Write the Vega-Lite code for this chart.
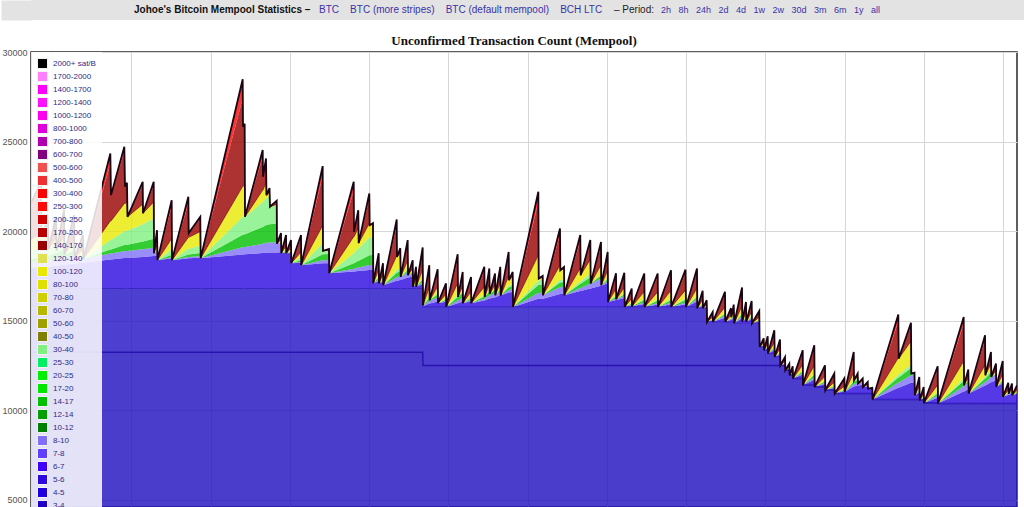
{
"$schema": "https://vega.github.io/schema/vega-lite/v6.json",
"padding": 0,
"spacing": 11,
"background": "white",
"resolve": {"scale": {"color": "independent", "y": "independent"}, "legend": {"color": "independent"}, "axis": {"y": "independent"}},
"config": {
  "font": "Liberation Sans",
  "view": {"stroke": null},
  "legend": {
    "orient": "top-left", "offset": 0, "padding": 6, "symbolLimit": 60,
    "fillColor": "rgba(255,255,255,0.85)",
    "symbolType": "square", "symbolSize": 100, "symbolStrokeColor": "#f2f2f2", "symbolStrokeWidth": 1, "symbolOpacity": 1,
    "labelFontSize": 8, "labelColor": "#2b2b88", "labelFont": "Liberation Sans", "labelOffset": 5, "rowPadding": -2
  }
},
"datasets": {
"mem": [
{"m":0,"p1":13240,"p2":16800,"b":17950,"l":18250,"g":18450,"lg":18850,"y":19500,"r":21200,"t":21560},
{"m":15.1,"p1":13240,"p2":16800,"b":17986,"l":18310,"g":18557,"lg":19064,"y":19928,"r":22271,"t":22750},
{"m":15.9,"p1":13240,"p2":16800,"b":17986,"l":18310,"g":18557,"lg":19064,"y":19800,"r":19800,"t":19800},
{"m":25.7,"p1":13240,"p2":16800,"b":18010,"l":18350,"g":18629,"lg":19208,"y":20088,"r":20520,"t":20600},
{"m":26.5,"p1":13240,"p2":16800,"b":18010,"l":18350,"g":18629,"lg":19000,"y":19000,"r":19000,"t":19000},
{"m":37.9,"p1":13240,"p2":16800,"b":18064,"l":18440,"g":18791,"lg":19324,"y":19648,"r":20620,"t":20800},
{"m":38.6,"p1":13240,"p2":16800,"b":18064,"l":18440,"g":18791,"lg":18900,"y":18900,"r":18900,"t":18900},
{"m":50.0,"p1":13240,"p2":16800,"b":18133,"l":18555,"g":18998,"lg":19314,"y":19728,"r":20970,"t":21200},
{"m":50.7,"p1":13240,"p2":16800,"b":18133,"l":18555,"g":18700,"lg":18700,"y":18700,"r":18700,"t":18700},
{"m":65.1,"p1":13240,"p2":16800,"b":18199,"l":18665,"g":18898,"lg":19096,"y":19492,"r":20680,"t":20900},
{"m":65.9,"p1":13240,"p2":16800,"b":18199,"l":18500,"g":18500,"lg":18500,"y":18500,"r":18500,"t":18500},
{"m":78.7,"p1":13240,"p2":16800,"b":18238,"l":18565,"g":18617,"lg":18734,"y":18968,"r":19670,"t":19800},
{"m":79.5,"p1":13240,"p2":16800,"b":18238,"l":18450,"g":18450,"lg":18450,"y":18450,"r":18450,"t":18450},
{"m":120.1,"p1":13240,"p2":16800,"b":18415,"l":18745,"g":18980,"lg":19510,"y":20570,"r":23751,"t":24340},
{"m":121.1,"p1":13240,"p2":16800,"b":18415,"l":18745,"g":18980,"lg":19510,"y":20570,"r":22010,"t":22010},
{"m":141.3,"p1":13240,"p2":16800,"b":18496,"l":18880,"g":19223,"lg":19996,"y":21542,"r":24440,"t":24710},
{"m":142.3,"p1":13240,"p2":16800,"b":18496,"l":18880,"g":19223,"lg":19996,"y":21542,"r":22480,"t":22480},
{"m":145.3,"p1":13240,"p2":16800,"b":18503,"l":18891,"g":19243,"lg":20036,"y":21621,"r":22678,"t":22700},
{"m":146.1,"p1":13240,"p2":16800,"b":18503,"l":18891,"g":19243,"lg":20036,"y":20800,"r":20800,"t":20800},
{"m":169.1,"p1":13240,"p2":16800,"b":18562,"l":18989,"g":19419,"lg":20388,"y":21504,"r":22560,"t":22755},
{"m":169.6,"p1":13240,"p2":16800,"b":18562,"l":18989,"g":19419,"lg":20388,"y":21000,"r":21000,"t":21000},
{"m":185.8,"p1":13240,"p2":16800,"b":18615,"l":19077,"g":19577,"lg":20704,"y":21632,"r":22580,"t":22755},
{"m":186.2,"p1":13240,"p2":16800,"b":18615,"l":18770,"g":18770,"lg":18770,"y":18770,"r":18770,"t":18770},
{"m":190.8,"p1":13240,"p2":16800,"b":18653,"l":18834,"g":18885,"lg":19000,"y":19231,"r":19922,"t":20050},
{"m":191.5,"p1":13240,"p2":16800,"b":18380,"l":18380,"g":18380,"lg":18380,"y":18380,"r":18380,"t":18380},
{"m":213.0,"p1":13240,"p2":16800,"b":18481,"l":18548,"g":18682,"lg":18983,"y":19586,"r":21395,"t":21730},
{"m":213.5,"p1":13240,"p2":16800,"b":18380,"l":18380,"g":18380,"lg":18380,"y":18380,"r":18380,"t":18380},
{"m":238.2,"p1":13240,"p2":16800,"b":18486,"l":18557,"g":18698,"lg":19016,"y":19653,"r":21562,"t":21915},
{"m":238.8,"p1":13240,"p2":16800,"b":18486,"l":18557,"g":18698,"lg":19016,"y":19653,"r":19890,"t":19890},
{"m":256.3,"p1":13240,"p2":16800,"b":18513,"l":18603,"g":18780,"lg":19180,"y":19981,"r":20709,"t":20800},
{"m":256.9,"p1":13240,"p2":16800,"b":18490,"l":18490,"g":18490,"lg":18490,"y":18490,"r":18490,"t":18490},
{"m":320.5,"p1":13240,"p2":16800,"b":18700,"l":19100,"g":19800,"lg":20800,"y":22500,"r":27400,"t":28475},
{"m":321.0,"p1":13240,"p2":16800,"b":18700,"l":19100,"g":19800,"lg":20800,"y":22500,"r":25830,"t":25830},
{"m":323.5,"p1":13240,"p2":16800,"b":18703,"l":19110,"g":19822,"lg":20841,"y":22568,"r":25983,"t":26000},
{"m":324.0,"p1":13240,"p2":16800,"b":18703,"l":19110,"g":19822,"lg":20800,"y":20800,"r":20800,"t":20800},
{"m":350.8,"p1":13240,"p2":16800,"b":18778,"l":19296,"g":20232,"lg":21620,"y":22290,"r":24153,"t":24525},
{"m":351.2,"p1":13240,"p2":16800,"b":18778,"l":19296,"g":20232,"lg":21620,"y":22290,"r":23030,"t":23030},
{"m":355.8,"p1":13240,"p2":16800,"b":18799,"l":19348,"g":20345,"lg":21847,"y":22702,"r":23957,"t":24060},
{"m":356.5,"p1":13240,"p2":16800,"b":18799,"l":19348,"g":20345,"lg":21847,"y":22010,"r":22010,"t":22010},
{"m":361.1,"p1":13240,"p2":16800,"b":18807,"l":19368,"g":20388,"lg":21933,"y":22166,"r":22361,"t":22400},
{"m":361.8,"p1":13240,"p2":16800,"b":18807,"l":19368,"g":20388,"lg":21360,"y":21360,"r":21360,"t":21360},
{"m":372.0,"p1":13240,"p2":16800,"b":18814,"l":19385,"g":20425,"lg":21435,"y":21496,"r":21666,"t":21700},
{"m":372.4,"p1":13240,"p2":16800,"b":18814,"l":19300,"g":19300,"lg":19300,"y":19300,"r":19300,"t":19300},
{"m":378.5,"p1":13240,"p2":16800,"b":18826,"l":19330,"g":19365,"lg":19430,"y":19536,"r":19831,"t":19890},
{"m":379.0,"p1":13240,"p2":16800,"b":18770,"l":18770,"g":18770,"lg":18770,"y":18770,"r":18770,"t":18770},
{"m":386.1,"p1":13240,"p2":16800,"b":18790,"l":18821,"g":18881,"lg":18992,"y":19174,"r":19679,"t":19780},
{"m":386.5,"p1":13240,"p2":16800,"b":18770,"l":18770,"g":18770,"lg":18770,"y":18770,"r":18770,"t":18770},
{"m":393.6,"p1":13240,"p2":16800,"b":18785,"l":18807,"g":18850,"lg":18931,"y":19062,"r":19427,"t":19500},
{"m":394.1,"p1":13240,"p2":16800,"b":18210,"l":18210,"g":18210,"lg":18210,"y":18210,"r":18210,"t":18210},
{"m":408.8,"p1":13240,"p2":16800,"b":18241,"l":18289,"g":18383,"lg":18555,"y":18838,"r":19623,"t":19780},
{"m":409.2,"p1":13240,"p2":16800,"b":18100,"l":18100,"g":18100,"lg":18100,"y":18100,"r":18100,"t":18100},
{"m":441.6,"p1":13240,"p2":16800,"b":18211,"l":18377,"g":18708,"lg":19317,"y":20312,"r":23077,"t":23630},
{"m":442.1,"p1":13240,"p2":16800,"b":18211,"l":18377,"g":18708,"lg":18900,"y":18900,"r":18900,"t":18900},
{"m":451.2,"p1":13240,"p2":16800,"b":18213,"l":18382,"g":18719,"lg":18922,"y":18940,"r":18990,"t":19000},
{"m":451.6,"p1":13240,"p2":16800,"b":17650,"l":17650,"g":17650,"lg":17650,"y":17650,"r":17650,"t":17650},
{"m":488.6,"p1":13240,"p2":16800,"b":17752,"l":17905,"g":18212,"lg":18773,"y":19692,"r":22245,"t":22755},
{"m":489.0,"p1":13240,"p2":16800,"b":17752,"l":17905,"g":18212,"lg":18773,"y":19692,"r":19960,"t":19960},
{"m":495.5,"p1":13240,"p2":16800,"b":17776,"l":17966,"g":18345,"lg":19039,"y":20176,"r":21049,"t":21170},
{"m":496.1,"p1":13240,"p2":16800,"b":17776,"l":17966,"g":18345,"lg":19039,"y":19330,"r":19330,"t":19330},
{"m":512.2,"p1":13240,"p2":16800,"b":17832,"l":18105,"g":18650,"lg":19650,"y":20440,"r":21828,"t":22105},
{"m":512.8,"p1":13240,"p2":16800,"b":17832,"l":18105,"g":18650,"lg":19650,"y":20330,"r":20330,"t":20330},
{"m":517.8,"p1":13240,"p2":16800,"b":17834,"l":18111,"g":18663,"lg":19676,"y":20378,"r":20438,"t":20450},
{"m":518.2,"p1":13240,"p2":16800,"b":17090,"l":17090,"g":17090,"lg":17090,"y":17090,"r":17090,"t":17090},
{"m":526.4,"p1":13240,"p2":16800,"b":17208,"l":17292,"g":17409,"lg":17476,"y":17846,"r":18619,"t":18770},
{"m":526.9,"p1":13240,"p2":16800,"b":17090,"l":17090,"g":17090,"lg":17090,"y":17090,"r":17090,"t":17090},
{"m":532.9,"p1":13240,"p2":16800,"b":17168,"l":17224,"g":17303,"lg":17348,"y":17594,"r":18109,"t":18210},
{"m":533.4,"p1":13240,"p2":16800,"b":16980,"l":16980,"g":16980,"lg":16980,"y":16980,"r":16980,"t":16980},
{"m":553.7,"p1":13240,"p2":16800,"b":17237,"l":17420,"g":17677,"lg":17824,"y":18632,"r":20320,"t":20650},
{"m":554.1,"p1":13240,"p2":16800,"b":17237,"l":17420,"g":17677,"lg":17824,"y":18560,"r":18560,"t":18560},
{"m":559.1,"p1":13240,"p2":16800,"b":17271,"l":17479,"g":17770,"lg":17937,"y":18781,"r":19006,"t":19050},
{"m":559.7,"p1":13240,"p2":16800,"b":17271,"l":17445,"g":17445,"lg":17445,"y":17445,"r":17445,"t":17445},
{"m":570.3,"p1":13240,"p2":16800,"b":17415,"l":17692,"g":17835,"lg":17918,"y":18370,"r":19315,"t":19500},
{"m":570.8,"p1":13240,"p2":16800,"b":17415,"l":17540,"g":17540,"lg":17540,"y":17540,"r":17540,"t":17540},
{"m":577.9,"p1":13240,"p2":16800,"b":17474,"l":17641,"g":17700,"lg":17733,"y":17918,"r":18304,"t":18380},
{"m":578.3,"p1":13240,"p2":16800,"b":16890,"l":16890,"g":16890,"lg":16890,"y":16890,"r":16890,"t":16890},
{"m":582.9,"p1":13240,"p2":16800,"b":16968,"l":17024,"g":17102,"lg":17146,"y":17392,"r":17905,"t":18005},
{"m":583.3,"p1":13240,"p2":16800,"b":16890,"l":16890,"g":16890,"lg":16890,"y":16890,"r":16890,"t":16890},
{"m":593.0,"p1":13240,"p2":16800,"b":17044,"l":17154,"g":17308,"lg":17396,"y":17880,"r":18892,"t":19090},
{"m":593.5,"p1":12500,"p2":15770,"b":15800,"l":15830,"g":15850,"lg":15865,"y":15865,"r":15865,"t":15865},
{"m":603.0,"p1":12500,"p2":15770,"b":15956,"l":16098,"g":16275,"lg":16379,"y":16871,"r":17899,"t":18100},
{"m":603.6,"p1":12500,"p2":15770,"b":15956,"l":16098,"g":16145,"lg":16145,"y":16145,"r":16145,"t":16145},
{"m":615.7,"p1":12500,"p2":15770,"b":16077,"l":16306,"g":16474,"lg":16543,"y":16924,"r":17719,"t":17875},
{"m":616.2,"p1":12500,"p2":15770,"b":15980,"l":15980,"g":15980,"lg":15980,"y":15980,"r":15980,"t":15980},
{"m":628.3,"p1":12500,"p2":15770,"b":16057,"l":16112,"g":16189,"lg":16233,"y":16475,"r":16981,"t":17080},
{"m":628.8,"p1":12500,"p2":15770,"b":15770,"l":15770,"g":15770,"lg":15770,"y":15770,"r":15770,"t":15770},
{"m":646.0,"p1":12500,"p2":15770,"b":15976,"l":16123,"g":16330,"lg":16447,"y":17095,"r":18450,"t":18715},
{"m":646.5,"p1":12500,"p2":15770,"b":15976,"l":16123,"g":16330,"lg":16330,"y":16330,"r":16330,"t":16330},
{"m":653.6,"p1":12500,"p2":15770,"b":16074,"l":16290,"g":16595,"lg":16651,"y":16958,"r":17599,"t":17725},
{"m":654.0,"p1":12500,"p2":15770,"b":15980,"l":15980,"g":15980,"lg":15980,"y":15980,"r":15980,"t":15980},
{"m":666.2,"p1":12500,"p2":15770,"b":16083,"l":16156,"g":16258,"lg":16317,"y":16639,"r":17313,"t":17445},
{"m":666.6,"p1":12500,"p2":15770,"b":15980,"l":15980,"g":15980,"lg":15980,"y":15980,"r":15980,"t":15980},
{"m":686.3,"p1":12500,"p2":15770,"b":16122,"l":16223,"g":16365,"lg":16446,"y":16891,"r":17823,"t":18005},
{"m":686.9,"p1":12500,"p2":15770,"b":16122,"l":16223,"g":16330,"lg":16330,"y":16330,"r":16330,"t":16330},
{"m":693.9,"p1":12500,"p2":15770,"b":16233,"l":16413,"g":16631,"lg":16695,"y":17043,"r":17772,"t":17915},
{"m":694.5,"p1":12500,"p2":15770,"b":16233,"l":16413,"g":16500,"lg":16500,"y":16500,"r":16500,"t":16500},
{"m":702.5,"p1":12500,"p2":15770,"b":16312,"l":16549,"g":16716,"lg":16761,"y":17011,"r":17533,"t":17635},
{"m":703.0,"p1":12500,"p2":15770,"b":16312,"l":16420,"g":16420,"lg":16420,"y":16420,"r":16420,"t":16420},
{"m":710.5,"p1":12500,"p2":15770,"b":16423,"l":16610,"g":16721,"lg":16785,"y":17133,"r":17862,"t":18005},
{"m":711.1,"p1":12500,"p2":15770,"b":16400,"l":16400,"g":16400,"lg":16400,"y":16400,"r":16400,"t":16400},
{"m":723.2,"p1":12500,"p2":15770,"b":16571,"l":16693,"g":16864,"lg":16961,"y":17498,"r":18620,"t":18840},
{"m":723.7,"p1":12500,"p2":15770,"b":16571,"l":16693,"g":16864,"lg":16961,"y":17260,"r":17260,"t":17260},
{"m":729.3,"p1":12500,"p2":15770,"b":16604,"l":16749,"g":16952,"lg":17068,"y":17469,"r":17683,"t":17725},
{"m":729.8,"p1":12500,"p2":15770,"b":15770,"l":15770,"g":15770,"lg":15770,"y":15770,"r":15770,"t":15770},
{"m":768.1,"p1":12500,"p2":15770,"b":16220,"l":16542,"g":16992,"lg":17249,"y":18664,"r":21621,"t":22200},
{"m":768.7,"p1":12500,"p2":15770,"b":16220,"l":16542,"g":16992,"lg":17249,"y":17355,"r":17355,"t":17355},
{"m":774.7,"p1":12500,"p2":15770,"b":16230,"l":16559,"g":17020,"lg":17282,"y":17420,"r":17487,"t":17500},
{"m":775.2,"p1":12500,"p2":15770,"b":16230,"l":16420,"g":16420,"lg":16420,"y":16420,"r":16420,"t":16420},
{"m":800.9,"p1":12500,"p2":15770,"b":16491,"l":16868,"g":17129,"lg":17278,"y":18099,"r":19814,"t":20150},
{"m":801.4,"p1":12500,"p2":15770,"b":16491,"l":16868,"g":17129,"lg":17278,"y":17820,"r":17820,"t":17820},
{"m":807.0,"p1":12500,"p2":15770,"b":16504,"l":16890,"g":17163,"lg":17319,"y":17901,"r":17984,"t":18000},
{"m":807.5,"p1":12500,"p2":15770,"b":16420,"l":16420,"g":16420,"lg":16420,"y":16420,"r":16420,"t":16420},
{"m":831.6,"p1":12500,"p2":15770,"b":16655,"l":16823,"g":17058,"lg":17193,"y":17932,"r":19478,"t":19780},
{"m":832.2,"p1":12500,"p2":15770,"b":16655,"l":16823,"g":17058,"lg":17193,"y":17540,"r":17540,"t":17540},
{"m":846.8,"p1":12500,"p2":15770,"b":16792,"l":17058,"g":17430,"lg":17644,"y":18422,"r":19324,"t":19500},
{"m":847.4,"p1":12500,"p2":15770,"b":16792,"l":17058,"g":17080,"lg":17080,"y":17080,"r":17080,"t":17080},
{"m":863.0,"p1":12500,"p2":15770,"b":16954,"l":17336,"g":17521,"lg":17614,"y":18124,"r":19191,"t":19400},
{"m":863.4,"p1":12500,"p2":15770,"b":16954,"l":16980,"g":16980,"lg":16980,"y":16980,"r":16980,"t":16980},
{"m":873.1,"p1":12500,"p2":15770,"b":17084,"l":17203,"g":17333,"lg":17408,"y":17817,"r":18673,"t":18840},
{"m":873.6,"p1":12500,"p2":15770,"b":16050,"l":16050,"g":16050,"lg":16050,"y":16050,"r":16050,"t":16050},
{"m":885.7,"p1":12500,"p2":15770,"b":16162,"l":16242,"g":16354,"lg":16418,"y":16770,"r":17506,"t":17650},
{"m":886.1,"p1":12500,"p2":15770,"b":16162,"l":16200,"g":16200,"lg":16200,"y":16200,"r":16200,"t":16200},
{"m":898.3,"p1":12500,"p2":15770,"b":16265,"l":16376,"g":16479,"lg":16538,"y":16862,"r":17538,"t":17670},
{"m":898.9,"p1":12500,"p2":15770,"b":15770,"l":15770,"g":15770,"lg":15770,"y":15770,"r":15770,"t":15770},
{"m":909.5,"p1":12500,"p2":15770,"b":15842,"l":15894,"g":15966,"lg":16007,"y":16234,"r":16707,"t":16800},
{"m":909.9,"p1":12500,"p2":15770,"b":15800,"l":15800,"g":15800,"lg":15800,"y":15800,"r":15800,"t":15800},
{"m":928.5,"p1":12500,"p2":15770,"b":15928,"l":16020,"g":16149,"lg":16222,"y":16626,"r":17470,"t":17635},
{"m":929.1,"p1":12500,"p2":15770,"b":15770,"l":15770,"g":15770,"lg":15770,"y":15770,"r":15770,"t":15770},
{"m":948.8,"p1":12500,"p2":15770,"b":15901,"l":15994,"g":16124,"lg":16199,"y":16609,"r":17467,"t":17635},
{"m":949.3,"p1":12500,"p2":15770,"b":15770,"l":15770,"g":15770,"lg":15770,"y":15770,"r":15770,"t":15770},
{"m":969.0,"p1":12500,"p2":15770,"b":15914,"l":16016,"g":16160,"lg":16242,"y":16693,"r":17636,"t":17820},
{"m":969.4,"p1":12500,"p2":15770,"b":15770,"l":15770,"g":15770,"lg":15770,"y":15770,"r":15770,"t":15770},
{"m":990.9,"p1":12500,"p2":15770,"b":15916,"l":16020,"g":16165,"lg":16248,"y":16706,"r":17663,"t":17850},
{"m":991.7,"p1":12500,"p2":15770,"b":15770,"l":15770,"g":15770,"lg":15770,"y":15770,"r":15770,"t":15770},
{"m":1008.3,"p1":12500,"p2":15770,"b":16070,"l":16199,"g":16328,"lg":16392,"y":16821,"r":17743,"t":17915},
{"m":1008.8,"p1":12500,"p2":15700,"b":15700,"l":15700,"g":15700,"lg":15700,"y":15700,"r":15700,"t":15700},
{"m":1016.9,"p1":12500,"p2":15700,"b":15835,"l":15893,"g":15951,"lg":15980,"y":16173,"r":16588,"t":16665},
{"m":1017.4,"p1":12500,"p2":15700,"b":15700,"l":15700,"g":15700,"lg":15700,"y":15700,"r":15700,"t":15700},
{"m":1023.0,"p1":12500,"p2":15700,"b":15762,"l":15789,"g":15816,"lg":15829,"y":15918,"r":16109,"t":16145},
{"m":1023.5,"p1":12500,"p2":14935,"b":14935,"l":14935,"g":14935,"lg":14935,"y":14935,"r":14935,"t":14935},
{"m":1032.1,"p1":12500,"p2":14935,"b":15013,"l":15046,"g":15079,"lg":15096,"y":15207,"r":15446,"t":15490},
{"m":1032.5,"p1":12500,"p2":14935,"b":14935,"l":14935,"g":14935,"lg":14935,"y":14935,"r":14935,"t":14935},
{"m":1050.7,"p1":12500,"p2":14935,"b":15170,"l":15270,"g":15371,"lg":15421,"y":15756,"r":16476,"t":16610},
{"m":1051.2,"p1":12500,"p2":14935,"b":14935,"l":14935,"g":14935,"lg":14935,"y":14935,"r":14935,"t":14935},
{"m":1059.8,"p1":12500,"p2":14935,"b":15042,"l":15088,"g":15134,"lg":15157,"y":15310,"r":15639,"t":15700},
{"m":1060.3,"p1":12500,"p2":14935,"b":15042,"l":15088,"g":15134,"lg":15157,"y":15200,"r":15200,"t":15200},
{"m":1063.9,"p1":12500,"p2":14935,"b":15140,"l":15228,"g":15316,"lg":15360,"y":15543,"r":15844,"t":15900},
{"m":1064.8,"p1":12500,"p2":14860,"b":14860,"l":14860,"g":14860,"lg":14860,"y":14860,"r":14860,"t":14860},
{"m":1076.5,"p1":12500,"p2":14860,"b":15139,"l":15258,"g":15377,"lg":15437,"y":15835,"r":16691,"t":16850},
{"m":1076.9,"p1":12500,"p2":14860,"b":14935,"l":14935,"g":14935,"lg":14935,"y":14935,"r":14935,"t":14935},
{"m":1082.5,"p1":12500,"p2":14860,"b":15091,"l":15158,"g":15225,"lg":15258,"y":15481,"r":15961,"t":16050},
{"m":1083.0,"p1":12500,"p2":14860,"b":14935,"l":14935,"g":14935,"lg":14935,"y":14935,"r":14935,"t":14935},
{"m":1091.1,"p1":12500,"p2":14860,"b":15099,"l":15169,"g":15239,"lg":15274,"y":15508,"r":16011,"t":16105},
{"m":1091.6,"p1":12500,"p2":14860,"b":14860,"l":14860,"g":14860,"lg":14860,"y":14860,"r":14860,"t":14860},
{"m":1102.6,"p1":12500,"p2":14860,"b":14956,"l":14997,"g":15038,"lg":15059,"y":15196,"r":15490,"t":15545},
{"m":1103.2,"p1":12500,"p2":13535,"b":13535,"l":13535,"g":13535,"lg":13535,"y":13535,"r":13535,"t":13535},
{"m":1109.3,"p1":12500,"p2":13535,"b":13603,"l":13632,"g":13661,"lg":13676,"y":13773,"r":13981,"t":14020},
{"m":1109.8,"p1":12500,"p2":13350,"b":13350,"l":13350,"g":13350,"lg":13350,"y":13350,"r":13350,"t":13350},
{"m":1115.4,"p1":12500,"p2":13350,"b":13459,"l":13506,"g":13553,"lg":13576,"y":13732,"r":14068,"t":14130},
{"m":1115.8,"p1":12500,"p2":13165,"b":13165,"l":13165,"g":13165,"lg":13165,"y":13165,"r":13165,"t":13165},
{"m":1125.4,"p1":12500,"p2":13165,"b":13348,"l":13426,"g":13504,"lg":13543,"y":13804,"r":14366,"t":14470},
{"m":1126.0,"p1":12500,"p2":12975,"b":12975,"l":12975,"g":12975,"lg":12975,"y":12975,"r":12975,"t":12975},
{"m":1134.0,"p1":12500,"p2":12975,"b":13112,"l":13170,"g":13229,"lg":13258,"y":13453,"r":13872,"t":13950},
{"m":1134.5,"p1":12500,"p2":12510,"b":12510,"l":12510,"g":12510,"lg":12510,"y":12510,"r":12510,"t":12510},
{"m":1141.6,"p1":12500,"p2":12510,"b":12575,"l":12603,"g":12631,"lg":12645,"y":12738,"r":12938,"t":12975},
{"m":1142.0,"p1":12235,"p2":12235,"b":12235,"l":12235,"g":12235,"lg":12235,"y":12235,"r":12235,"t":12235},
{"m":1148.1,"p1":12235,"p2":12235,"b":12286,"l":12308,"g":12330,"lg":12341,"y":12414,"r":12571,"t":12600},
{"m":1148.7,"p1":11955,"p2":11955,"b":11955,"l":11955,"g":11955,"lg":11955,"y":11955,"r":11955,"t":11955},
{"m":1153.2,"p1":11955,"p2":11955,"b":12026,"l":12056,"g":12086,"lg":12101,"y":12202,"r":12420,"t":12460},
{"m":1153.7,"p1":11770,"p2":11770,"b":11770,"l":11770,"g":11770,"lg":11770,"y":11770,"r":11770,"t":11770},
{"m":1168.4,"p1":11770,"p2":11770,"b":11991,"l":12086,"g":12181,"lg":12228,"y":12544,"r":13224,"t":13350},
{"m":1168.8,"p1":11395,"p2":11395,"b":11395,"l":11395,"g":11395,"lg":11395,"y":11395,"r":11395,"t":11395},
{"m":1185.9,"p1":11395,"p2":11395,"b":11708,"l":11842,"g":11976,"lg":12043,"y":12490,"r":13451,"t":13630},
{"m":1186.5,"p1":11300,"p2":11300,"b":11300,"l":11300,"g":11300,"lg":11300,"y":11300,"r":11300,"t":11300},
{"m":1202.1,"p1":11300,"p2":11300,"b":11469,"l":11542,"g":11615,"lg":11651,"y":11893,"r":12413,"t":12510},
{"m":1202.6,"p1":11115,"p2":11115,"b":11115,"l":11115,"g":11115,"lg":11115,"y":11115,"r":11115,"t":11115},
{"m":1216.2,"p1":11115,"p2":11115,"b":11246,"l":11302,"g":11358,"lg":11386,"y":11573,"r":11975,"t":12050},
{"m":1216.8,"p1":10930,"p2":10930,"b":10930,"l":10930,"g":10930,"lg":10930,"y":10930,"r":10930,"t":10930},
{"m":1231.3,"p1":10930,"p2":10930,"b":11048,"l":11098,"g":11148,"lg":11174,"y":11342,"r":11703,"t":11770},
{"m":1231.9,"p1":10930,"p2":10930,"b":11020,"l":11020,"g":11020,"lg":11020,"y":11020,"r":11020,"t":11020},
{"m":1245.6,"p1":10930,"p2":10930,"b":11333,"l":11467,"g":11601,"lg":11668,"y":12115,"r":13076,"t":13255},
{"m":1246.0,"p1":10930,"p2":10930,"b":11333,"l":11467,"g":11601,"lg":11668,"y":11675,"r":11675,"t":11675},
{"m":1251.6,"p1":10930,"p2":10930,"b":11386,"l":11542,"g":11699,"lg":11777,"y":11859,"r":12020,"t":12050},
{"m":1252.1,"p1":10930,"p2":10930,"b":11386,"l":11490,"g":11490,"lg":11490,"y":11490,"r":11490,"t":11490},
{"m":1259.2,"p1":10930,"p2":10930,"b":11425,"l":11546,"g":11563,"lg":11571,"y":11627,"r":11748,"t":11770},
{"m":1259.7,"p1":10930,"p2":10930,"b":11300,"l":11300,"g":11300,"lg":11300,"y":11300,"r":11300,"t":11300},
{"m":1266.8,"p1":10930,"p2":10930,"b":11339,"l":11356,"g":11373,"lg":11381,"y":11437,"r":11558,"t":11580},
{"m":1267.2,"p1":10930,"p2":10930,"b":11210,"l":11210,"g":11210,"lg":11210,"y":11210,"r":11210,"t":11210},
{"m":1273.7,"p1":10930,"p2":10930,"b":11215,"l":11218,"g":11221,"lg":11222,"y":11230,"r":11247,"t":11250},
{"m":1274.3,"p1":10600,"p2":10600,"b":10600,"l":10600,"g":10600,"lg":10600,"y":10600,"r":10600,"t":10600},
{"m":1313.1,"p1":10600,"p2":10600,"b":11264,"l":11549,"g":11834,"lg":11976,"y":12925,"r":14965,"t":15345},
{"m":1313.7,"p1":10600,"p2":10600,"b":11264,"l":11549,"g":11834,"lg":11976,"y":12885,"r":12885,"t":12885},
{"m":1332.3,"p1":10600,"p2":10600,"b":11543,"l":11948,"g":12353,"lg":12555,"y":13863,"r":14720,"t":14880},
{"m":1332.8,"p1":10600,"p2":10600,"b":11543,"l":11948,"g":12050,"lg":12050,"y":12050,"r":12050,"t":12050},
{"m":1337.6,"p1":10600,"p2":10600,"b":11550,"l":11960,"g":12070,"lg":12075,"y":12085,"r":12098,"t":12100},
{"m":1338.1,"p1":10600,"p2":10600,"b":10840,"l":10840,"g":10840,"lg":10840,"y":10840,"r":10840,"t":10840},
{"m":1344.9,"p1":10600,"p2":10600,"b":10983,"l":11044,"g":11105,"lg":11136,"y":11340,"r":11778,"t":11860},
{"m":1345.5,"p1":10560,"p2":10560,"b":10560,"l":10560,"g":10560,"lg":10560,"y":10560,"r":10560,"t":10560},
{"m":1351.5,"p1":10560,"p2":10560,"b":10664,"l":10708,"g":10752,"lg":10775,"y":10923,"r":11241,"t":11300},
{"m":1352.0,"p1":10410,"p2":10410,"b":10410,"l":10410,"g":10410,"lg":10410,"y":10410,"r":10410,"t":10410},
{"m":1372.7,"p1":10410,"p2":10410,"b":10697,"l":10820,"g":10943,"lg":11005,"y":11415,"r":12296,"t":12460},
{"m":1373.2,"p1":10375,"p2":10375,"b":10375,"l":10375,"g":10375,"lg":10375,"y":10375,"r":10375,"t":10375},
{"m":1412.1,"p1":10375,"p2":10375,"b":11052,"l":11342,"g":11632,"lg":11777,"y":12744,"r":14823,"t":15210},
{"m":1412.6,"p1":10375,"p2":10375,"b":11052,"l":11342,"g":11395,"lg":11395,"y":11395,"r":11395,"t":11395},
{"m":1419.1,"p1":10375,"p2":10375,"b":11175,"l":11517,"g":11623,"lg":11649,"y":11824,"r":12200,"t":12270},
{"m":1419.7,"p1":10375,"p2":10375,"b":10930,"l":10930,"g":10930,"lg":10930,"y":10930,"r":10930,"t":10930},
{"m":1444.4,"p1":10375,"p2":10375,"b":11386,"l":11582,"g":11778,"lg":11875,"y":12527,"r":13929,"t":14190},
{"m":1444.9,"p1":10375,"p2":10375,"b":11386,"l":11582,"g":11778,"lg":11875,"y":11955,"r":11955,"t":11955},
{"m":1453.4,"p1":10375,"p2":10375,"b":11568,"l":11842,"g":12116,"lg":12252,"y":12592,"r":13151,"t":13255},
{"m":1453.9,"p1":10375,"p2":10375,"b":11568,"l":11842,"g":11860,"lg":11860,"y":11860,"r":11860,"t":11860},
{"m":1461.0,"p1":10375,"p2":10375,"b":11672,"l":11991,"g":12054,"lg":12076,"y":12225,"r":12545,"t":12605},
{"m":1461.5,"p1":10375,"p2":10375,"b":11300,"l":11300,"g":11300,"lg":11300,"y":11300,"r":11300,"t":11300},
{"m":1471.2,"p1":10375,"p2":10375,"b":11503,"l":11590,"g":11677,"lg":11721,"y":12011,"r":12634,"t":12750},
{"m":1471.6,"p1":10375,"p2":10375,"b":10750,"l":10750,"g":10750,"lg":10750,"y":10750,"r":10750,"t":10750},
{"m":1479.6,"p1":10375,"p2":10375,"b":10859,"l":10906,"g":10953,"lg":10976,"y":11132,"r":11468,"t":11530},
{"m":1480.2,"p1":10375,"p2":10375,"b":10859,"l":10906,"g":10930,"lg":10930,"y":10930,"r":10930,"t":10930},
{"m":1485.2,"p1":10375,"p2":10375,"b":10937,"l":11018,"g":11076,"lg":11092,"y":11204,"r":11445,"t":11490},
{"m":1485.7,"p1":10375,"p2":10375,"b":10840,"l":10840,"g":10840,"lg":10840,"y":10840,"r":10840,"t":10840},
{"m":1492.8,"p1":10375,"p2":10375,"b":10918,"l":10951,"g":10984,"lg":11001,"y":11112,"r":11351,"t":11395}
]
},
"vconcat": [
{
  "width": 994, "height": 20,
  "view": {"fill": "#e3e3e3", "stroke": null},
  "data": {"values": [{}]},
  "layer": [
    {"mark": {"type": "point", "opacity": 0},
     "encoding": {"y": {"datum": 0, "type": "quantitative", "scale": {"domain": [0, 1]},
       "axis": {"domain": true, "domainColor": "#e3e3e3", "domainWidth": 30, "offset": 15, "labels": false, "ticks": false, "grid": false, "title": null, "minExtent": 0, "maxExtent": 30}}}},
    {"mark": {"type": "text", "text": "Johoe's Bitcoin Mempool Statistics –", "align": "left", "dx": -394, "fontWeight": "bold", "fontSize": 10, "font": "Liberation Sans", "color": "#111111"}},
    {"mark": {"type": "text", "text": "BTC\u00a0\u00a0\u00a0\u00a0BTC (more stripes)\u00a0\u00a0\u00a0\u00a0BTC (default mempool)\u00a0\u00a0\u00a0\u00a0BCH\u00a0LTC", "align": "left", "dx": -209, "fontSize": 10, "font": "Liberation Sans", "color": "#3b32a8"}},
    {"mark": {"type": "text", "text": "– Period:", "align": "left", "dx": 86, "fontSize": 10, "font": "Liberation Sans", "color": "#222222"}},
    {"mark": {"type": "text", "text": "2h\u00a0\u00a0\u00a08h\u00a0\u00a0\u00a024h\u00a0\u00a0\u00a02d\u00a0\u00a0\u00a04d\u00a0\u00a0\u00a01w\u00a0\u00a0\u00a02w\u00a0\u00a0\u00a030d\u00a0\u00a0\u00a03m\u00a0\u00a0\u00a06m\u00a0\u00a0\u00a01y\u00a0\u00a0\u00a0all", "align": "left", "dx": 133, "fontSize": 9, "font": "Liberation Sans", "color": "#3b32a8"}}
  ]
},
{
  "width": 986, "height": 455,
  "view": {"stroke": "#2a2a2a", "strokeWidth": 1.5},
  "title": {"text": "Unconfirmed Transaction Count (Mempool)", "font": "Liberation Serif", "fontSize": 13, "fontWeight": "bold", "color": "#111111", "anchor": "middle", "offset": 0, "dx": -10},
  "data": {"name": "mem"},
  "encoding": {
    "x": {"field": "m", "type": "quantitative", "scale": {"domain": [0, 1492.8], "nice": false, "zero": false},
          "axis": {"values": [32,152,272,392,512,632,752,872,992,1112,1232,1352,1472], "labels": false, "ticks": false, "domain": false, "title": null, "grid": true, "gridColor": "#d6d6d6"}}
  },
  "layer": [
    {"mark": {"type": "area", "fillOpacity": 0.8, "clip": true},
     "encoding": {
       "y": {"field": "p1", "type": "quantitative", "scale": {"domain": [4600, 30000], "nice": false, "zero": false},
             "axis": {"values": [5000,10000,15000,20000,25000,30000], "format": "d", "title": null, "ticks": false, "domain": false, "labelFontSize": 9, "labelColor": "#555555", "labelPadding": 4, "gridColor": "#d6d6d6", "minExtent": 30, "maxExtent": 30, "labelFlush": false}},
       "y2": {"datum": 4600},
       "color": {"datum": "1-2", "type": "nominal",
         "scale": {"domain": ["2000+ sat/B","1700-2000","1400-1700","1200-1400","1000-1200","800-1000","700-800","600-700","500-600","400-500","300-400","250-300","200-250","170-200","140-170","120-140","100-120","80-100","70-80","60-70","50-60","40-50","30-40","25-30","20-25","17-20","14-17","12-14","10-12","8-10","7-8","6-7","5-6","4-5","3-4","2-3","1-2"],
                   "range": ["#000000","#ff80ff","#ff00ff","#ff10ff","#ff00ee","#e000dd","#b000b0","#800080","#f05050","#f03030","#ff0000","#ff0808","#d00000","#b80000","#990000","#e0e050","#e8e800","#e0e000","#d0d000","#b8b800","#a0a000","#808000","#80f080","#00f060","#00f000","#00e800","#00c000","#00a000","#008000","#8070f8","#6040ff","#4000ff","#2c08e0","#2000e0","#2000c8","#2010c6","#1e0cbe"]},
         "legend": {"title": null, "orient": "top-left"}}
     }},
    {"mark": {"type": "area", "fillOpacity": 0.8, "clip": true},
     "encoding": {"y": {"field": "p2", "type": "quantitative", "axis": {"title": null}}, "y2": {"field": "p1"}, "color": {"datum": "2-3", "type": "nominal"}}},
    {"mark": {"type": "area", "fillOpacity": 0.8, "clip": true},
     "encoding": {"y": {"field": "b", "type": "quantitative", "axis": {"title": null}}, "y2": {"field": "p2"}, "color": {"datum": "5-6", "type": "nominal"}}},
    {"mark": {"type": "area", "fillOpacity": 0.8, "clip": true},
     "encoding": {"y": {"field": "l", "type": "quantitative", "axis": {"title": null}}, "y2": {"field": "b"}, "color": {"datum": "8-10", "type": "nominal"}}},
    {"mark": {"type": "area", "fillOpacity": 0.8, "clip": true},
     "encoding": {"y": {"field": "g", "type": "quantitative", "axis": {"title": null}}, "y2": {"field": "l"}, "color": {"datum": "14-17", "type": "nominal"}}},
    {"mark": {"type": "area", "fillOpacity": 0.8, "clip": true},
     "encoding": {"y": {"field": "lg", "type": "quantitative", "axis": {"title": null}}, "y2": {"field": "g"}, "color": {"datum": "30-40", "type": "nominal"}}},
    {"mark": {"type": "area", "fillOpacity": 0.8, "clip": true},
     "encoding": {"y": {"field": "y", "type": "quantitative", "axis": {"title": null}}, "y2": {"field": "lg"}, "color": {"datum": "100-120", "type": "nominal"}}},
    {"mark": {"type": "area", "fillOpacity": 0.8, "clip": true},
     "encoding": {"y": {"field": "r", "type": "quantitative", "axis": {"title": null}}, "y2": {"field": "y"}, "color": {"datum": "140-170", "type": "nominal"}}},
    {"mark": {"type": "area", "fillOpacity": 0.8, "clip": true},
     "encoding": {"y": {"field": "t", "type": "quantitative", "axis": {"title": null}}, "y2": {"field": "r"}, "color": {"datum": "300-400", "type": "nominal"}}},
    {"mark": {"type": "line", "color": "#2a12b0", "strokeWidth": 1.5, "clip": true},
     "encoding": {"y": {"field": "p1", "type": "quantitative", "axis": {"title": null}}}},
    {"mark": {"type": "line", "color": "#3a22c4", "strokeWidth": 1, "clip": true},
     "encoding": {"y": {"field": "p2", "type": "quantitative", "axis": {"title": null}}}},
    {"mark": {"type": "line", "color": "#7a0808", "strokeWidth": 0.7, "clip": true},
     "encoding": {"y": {"field": "y", "type": "quantitative", "axis": {"title": null}}}},
    {"mark": {"type": "line", "color": "#1a0412", "strokeWidth": 1.8, "clip": true},
     "encoding": {"y": {"field": "t", "type": "quantitative", "axis": {"title": null}}}}
  ]
}
]
}
